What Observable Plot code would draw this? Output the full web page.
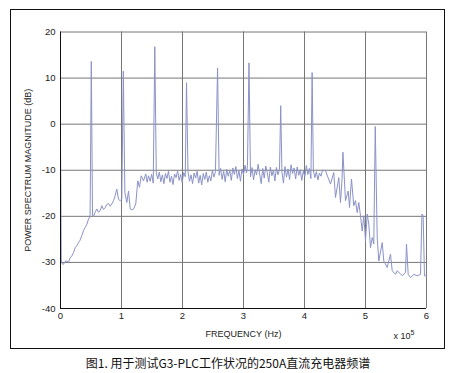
<!DOCTYPE html>
<html>
<head>
<meta charset="utf-8">
<script src="https://cdn.jsdelivr.net/npm/d3@7"></script>
<script src="https://cdn.jsdelivr.net/npm/@observablehq/plot@0.6"></script>
<style>
  html, body { margin: 0; padding: 0; background: #fff; }
  #wrap { position: relative; width: 456px; height: 373px; background: #fff; overflow: hidden; }
  #chart { position: absolute; left: 0; top: 0; }
  #border { position: absolute; left: 10px; top: 9px; width: 435px; height: 340px; box-sizing: border-box; border: 1px solid #111; pointer-events: none; }
  #caption { position: absolute; left: 0; top: 355px; width: 456px; text-align: center; font: 12px/16px "Noto Sans CJK SC", sans-serif; color: #111; }
</style>
</head>
<body>
<div id="wrap">
  <div id="chart"></div>
  <div id="border"></div>
  <div id="caption">图1. 用于测试G3-PLC工作状况的250A直流充电器频谱</div>
</div>
<script>
// Frequency in units of 1e5 Hz, magnitude in dB
const baseFreq = [
  0.000, 0.006, 0.012, 0.025, 0.049, 0.075, 0.103, 0.130, 0.159, 0.185,
  0.213, 0.241, 0.270, 0.295, 0.320, 0.349, 0.380, 0.405, 0.430, 0.459,
  0.485, 0.525, 0.545, 0.570, 0.595, 0.620, 0.651, 0.677, 0.705, 0.733,
  0.760, 0.787, 0.815, 0.841, 0.870, 0.897, 0.923, 0.951, 0.979, 1.005,
  1.055, 1.087, 1.115, 1.143, 1.170, 1.197, 1.234, 1.267, 1.295, 1.323,
  1.361, 1.398, 1.420, 1.443, 1.470, 1.495, 1.520, 1.570, 1.595, 1.620,
  1.645, 1.670, 1.695, 1.720, 1.745, 1.770, 1.795, 1.820, 1.845, 1.870,
  1.895, 1.920, 1.945, 1.970, 1.995, 2.020, 2.045, 2.090, 2.115, 2.140,
  2.165, 2.190, 2.215, 2.240, 2.265, 2.290, 2.315, 2.340, 2.365, 2.390,
  2.415, 2.440, 2.465, 2.490, 2.515, 2.540, 2.600, 2.625, 2.650, 2.675,
  2.700, 2.725, 2.750, 2.775, 2.800, 2.825, 2.850, 2.875, 2.900, 2.925,
  2.950, 2.975, 3.000, 3.025, 3.050, 3.065, 3.115, 3.140, 3.165, 3.190,
  3.215, 3.240, 3.265, 3.290, 3.315, 3.340, 3.365, 3.390, 3.415, 3.440,
  3.465, 3.490, 3.515, 3.540, 3.565, 3.590, 3.630, 3.655, 3.680, 3.705,
  3.730, 3.755, 3.780, 3.805, 3.830, 3.855, 3.880, 3.905, 3.930, 3.955,
  3.980, 4.005, 4.030, 4.055, 4.080, 4.105, 4.145, 4.170, 4.195, 4.220,
  4.245, 4.270, 4.295, 4.344, 4.426, 4.480, 4.508, 4.562, 4.590, 4.615,
  4.672, 4.716, 4.738, 4.770, 4.808, 4.836, 4.864, 4.890, 4.918, 4.946,
  4.972, 5.000, 5.028, 5.054, 5.082, 5.110, 5.136, 5.192, 5.218, 5.274,
  5.300, 5.356, 5.410, 5.438, 5.492, 5.520, 5.602, 5.656, 5.700, 5.738,
  5.792, 5.848, 5.902, 5.945, 5.967, 6.000
];
const baseDb = [
  -4.2, -14.0, -29.5, -30.3, -30.4, -29.8, -29.7, -30.0, -29.0, -28.6,
  -27.9, -26.8, -26.3, -25.7, -25.2, -24.2, -23.0, -22.4, -21.8, -20.6,
  -20.0, -19.8, -19.9, -19.0, -18.4, -19.1, -18.8, -17.7, -18.5, -18.1,
  -17.4, -17.2, -17.8, -17.3, -16.6, -15.5, -14.1, -16.3, -16.6, -16.2,
  -14.8, -17.0, -14.5, -18.4, -18.6, -18.4, -17.3, -12.3, -13.7, -11.2,
  -12.3, -10.8, -12.6, -11.2, -12.4, -10.9, -12.8, -10.6, -11.9, -10.4,
  -12.5, -11.0, -12.9, -10.7, -11.8, -10.2, -12.6, -11.3, -13.1, -10.8,
  -11.6, -10.1, -12.2, -10.9, -12.7, -10.5, -11.4, -10.3, -12.4, -11.0,
  -12.9, -10.6, -11.7, -10.2, -12.8, -11.1, -13.2, -10.7, -12.0, -10.4,
  -12.6, -11.2, -12.3, -10.0, -11.5, -10.3, -11.1, -9.6, -12.0, -10.2,
  -12.5, -9.8, -11.3, -10.0, -12.2, -9.5, -10.9, -9.2, -11.8, -10.1,
  -12.4, -9.7, -11.0, -8.9, -10.6, -9.0, -11.4, -9.4, -12.1, -9.9,
  -11.0, -8.7, -10.8, -12.9, -9.6, -11.7, -9.1, -10.5, -12.6, -9.3,
  -11.2, -10.0, -12.3, -9.4, -11.0, -9.8, -10.4, -12.8, -9.2, -11.5,
  -9.7, -12.0, -8.8, -10.7, -9.5, -11.9, -9.3, -11.1, -9.9, -12.2,
  -10.2, -11.4, -9.0, -10.9, -9.6, -11.8, -10.1, -11.6, -10.3, -12.1,
  -10.6, -11.3, -10.0, -10.1, -13.0, -10.5, -15.9, -11.6, -17.0, -12.0,
  -16.6, -14.5, -18.1, -11.9, -17.7, -16.6, -19.2, -17.0, -19.9, -23.2,
  -19.9, -25.3, -19.5, -21.7, -26.8, -24.6, -26.0, -24.6, -29.7, -25.7,
  -29.7, -31.1, -28.2, -31.8, -32.6, -31.8, -32.9, -32.2, -32.6, -33.3,
  -32.6, -32.9, -32.6, -19.9, -32.9, -33.0
];
// Narrow spectral spikes
const peakFreq = [0.505, 1.030, 1.546, 2.066, 2.575, 3.090, 3.610, 4.125, 4.630, 5.160, 5.672, 5.925];
const peakDb   = [13.6, 11.5, 16.8, 9.0, 12.2, 13.3, 4.0, 11.2, -6.1, -0.5, -26.0, -19.5];

const xTicks = [0, 1, 2, 3, 4, 5, 6];
const yTicks = [-40, -30, -20, -10, 0, 10, 20];

const data = baseFreq.map((f, i) => ({f, db: baseDb[i]}))
  .concat(peakFreq.map((f, i) => ({f, db: peakDb[i]})))
  .sort((a, b) => a.f - b.f);

const H = 350, mL = 60, mR = 30, mT = 31.5, mB = 42;

const chart = Plot.plot({
  width: 456,
  height: H,
  marginLeft: mL,
  marginRight: mR,
  marginTop: mT,
  marginBottom: mB,
  style: {fontFamily: "'Liberation Sans', Arial, sans-serif", fontSize: "9.5px", color: "#222", background: "transparent", overflow: "visible"},
  x: {domain: [0, 6]},
  y: {domain: [-40, 20]},
  marks: [
    Plot.gridX(xTicks.slice(1), {stroke: "#777", strokeOpacity: 1, strokeWidth: 1}),
    Plot.gridY(yTicks.slice(1), {stroke: "#777", strokeOpacity: 1, strokeWidth: 1}),
    Plot.line(data, {x: "f", y: "db", stroke: "#8a92c8", strokeWidth: 1}),
    Plot.ruleX([0], {stroke: "#111"}),
    Plot.ruleY([-40], {stroke: "#111"}),
    Plot.axisX({ticks: xTicks, tickSize: 0, tickPadding: 4, tickFormat: d => String(d), label: null}),
    Plot.axisY({ticks: yTicks, tickSize: 0, tickPadding: 5, tickFormat: d => String(d), label: null}),
    Plot.text(["FREQUENCY (Hz)"], {frameAnchor: "bottom", dy: 28, text: d => d, fontSize: 9, fill: "#222"}),
    Plot.text(["POWER SPECTRUM MAGNITUDE (dB)"], {frameAnchor: "left", dx: -32, rotate: -90, textAnchor: "middle", text: d => d, fontSize: 9, fill: "#222"})
  ]
});
document.getElementById("chart").appendChild(chart);

// Exponent label "x 10^5" at the end of the x axis
const svg = d3.select(chart);
const t = svg.append("text")
  .attr("x", 404).attr("y", 339)
  .attr("font-family", "'Liberation Sans', Arial, sans-serif")
  .attr("font-size", 9).attr("fill", "#222");
t.append("tspan").text("x 10");
t.append("tspan").attr("dy", -4).attr("font-size", 7).text("5");
</script>
</body>
</html>
